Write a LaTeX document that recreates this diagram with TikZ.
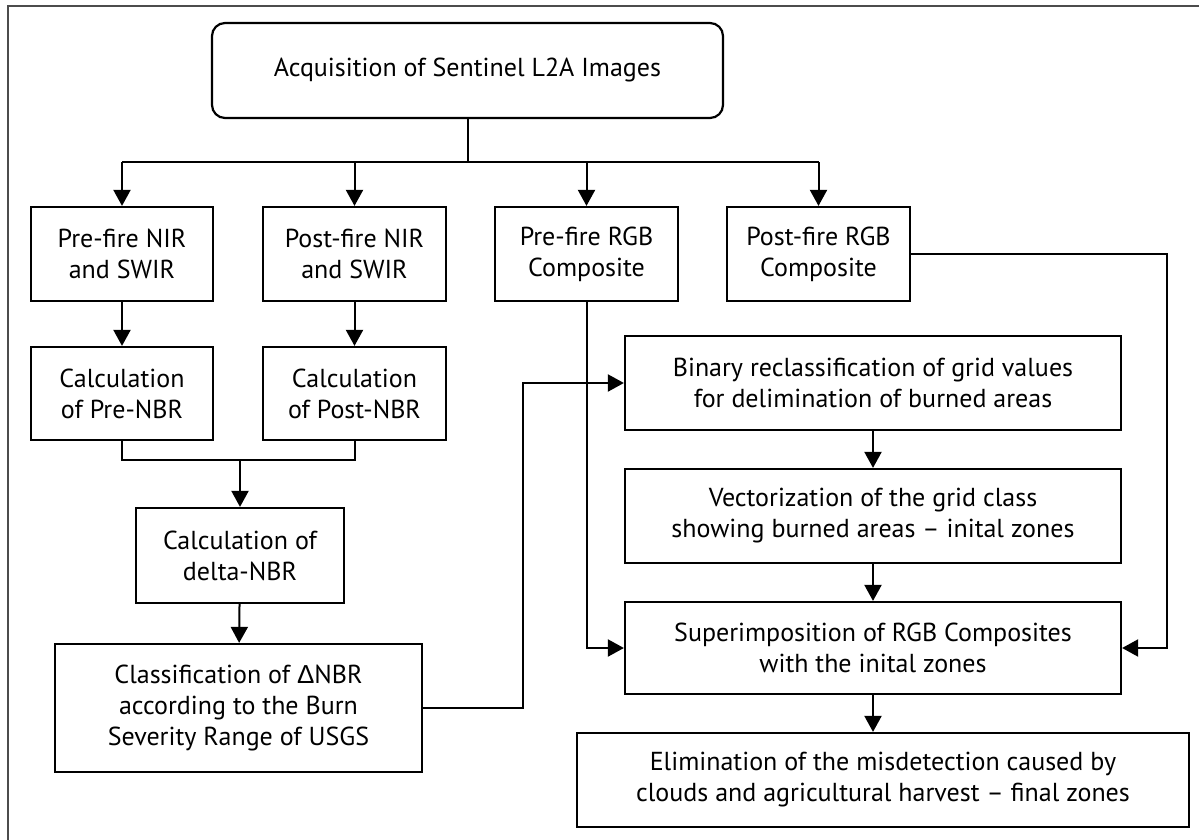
\documentclass[tikz,border=0pt]{standalone}
\usepackage{fontspec}
\setmainfont{PT Sans}
\newfontfamily\deltafont{Liberation Sans}
\usetikzlibrary{arrows.meta}

\tikzset{
  stepbox/.style={draw, line width=1.1pt, rectangle, align=center, inner sep=2pt,
    font=\fontsize{13}{15.5}\selectfont},
  arr/.style={line width=1pt, -{Triangle[length=8pt,width=8.5pt]}},
  link/.style={line width=1pt}
}

\begin{document}
\begin{tikzpicture}[x=0.5pt, y=-0.5pt]
\useasboundingbox (0,0) rectangle (1199,840);
% frame
\draw[black!70, line width=1pt] (8,840) -- (8,6) -- (1199,6);

% top
\node[stepbox, rounded corners=6.5pt, minimum width=255.5pt, minimum height=47.5pt] (acq) at (467.5,70.5) {Acquisition of Sentinel L2A Images};
\coordinate (fork) at (468,162);

% first row
\node[stepbox, minimum width=91pt, minimum height=47pt] (nirpre) at (122,254) {Pre-fire NIR\\and SWIR};
\node[stepbox, minimum width=91.5pt, minimum height=47pt] (nirpost) at (354.5,254) {Post-fire NIR\\and SWIR};
\node[stepbox, minimum width=91.5pt, minimum height=47pt] (rgbpre) at (586.5,254) {Pre-fire RGB\\Composite};
\node[stepbox, minimum width=91.5pt, minimum height=47pt] (rgbpost) at (818.5,254) {Post-fire RGB\\Composite};

% nbr
\node[stepbox, minimum width=91pt, minimum height=46.5pt] (nbrpre) at (122,393.5) {Calculation\\of Pre-NBR};
\node[stepbox, minimum width=91.5pt, minimum height=46.5pt] (nbrpost) at (354.5,393.5) {Calculation\\of Post-NBR};
\coordinate (join) at (240,460);
\node[stepbox, minimum width=104pt, minimum height=47.5pt] (dnbr) at (240,555.5) {Calculation of\\delta-NBR};
\node[stepbox, minimum width=183.5pt, minimum height=64pt] (cls) at (238.5,708) {Classification of {\deltafont Δ}NBR\\according to the Burn\\Severity Range of USGS};

% right column
\node[stepbox, minimum width=248pt, minimum height=47pt] (bin) at (873,383) {Binary reclassification of grid values\\for delimination of burned areas};
\node[stepbox, minimum width=248pt, minimum height=47pt] (vec) at (873,516) {Vectorization of the grid class\\showing burned areas -- inital zones};
\node[stepbox, minimum width=248pt, minimum height=46pt] (sup) at (873,648) {Superimposition of RGB Composites\\with the inital zones};
\node[stepbox, minimum width=306pt, minimum height=47pt] (elim) at (883,780) {Elimination of the misdetection caused by\\clouds and agricultural harvest -- final zones};

% connectors
\draw[link] (acq.south) -- (acq.south |- fork);
\draw[link] (nirpre.north |- fork) -- (rgbpost.north |- fork);
\draw[arr] (nirpre.north |- fork) -- (nirpre.north);
\draw[arr] (nirpost.north |- fork) -- (nirpost.north);
\draw[arr] (rgbpre.north |- fork) -- (rgbpre.north);
\draw[arr] (rgbpost.north |- fork) -- (rgbpost.north);

\draw[arr] (nirpre) -- (nbrpre);
\draw[arr] (nirpost) -- (nbrpost);
\draw[link] (nbrpre.south) |- (join) -| (nbrpost.south);
\draw[arr] (join) -- (dnbr.north);
\draw[arr] (dnbr) -- (cls);

\draw[arr] (cls.east) -- ++(100,0) |- (bin.west);
\draw[arr] (bin) -- (vec);
\draw[arr] (vec) -- (sup);
\draw[arr] (rgbpre.south) |- (sup.west);
\draw[arr] (rgbpost.east) -- ++(256,0) |- (sup.east);
\draw[arr] (sup.south) -- (sup.south |- elim.north);
\end{tikzpicture}
\end{document}
